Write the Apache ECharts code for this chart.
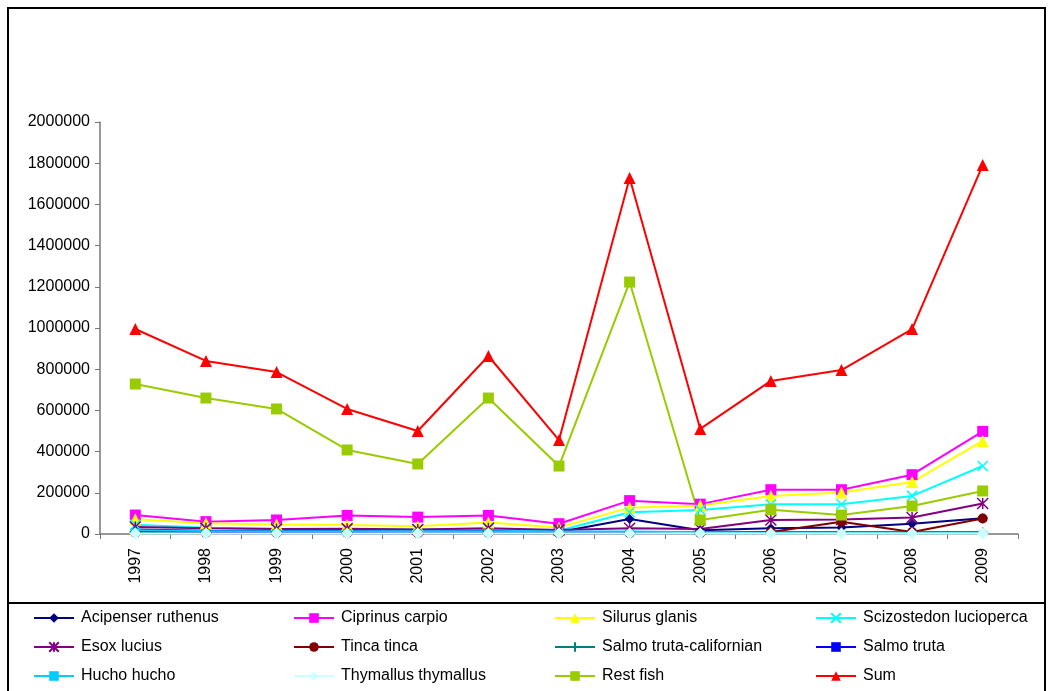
<!DOCTYPE html>
<html>
<head>
<meta charset="utf-8">
<script src="https://cdn.jsdelivr.net/npm/echarts@6/dist/echarts.min.js"></script>
<style>
  html, body { margin: 0; padding: 0; background: #fff; }
  #chart { width: 1048px; height: 691px; }
</style>
</head>
<body>
<div id="chart"></div>
<script>
// Fish catch by species, 1997-2009
const years = ['1997', '1998', '1999', '2000', '2001', '2002', '2003', '2004', '2005', '2006', '2007', '2008', '2009'];

const acipenser   = [22000, 16000, 14000, 14000, 12000, 14000, 10000, 73000, 18000, 28000, 31000, 50000, 76000];
const ciprinus    = [92000, 60000, 68000, 90000, 82000, 90000, 50000, 162000, 145000, 215000, 215000, 288000, 498000];
const silurus     = [72000, 52000, 46000, 44000, 38000, 56000, 32000, 128000, 138000, 185000, 202000, 252000, 452000];
const scizostedon = [45000, 30000, 26000, 24000, 22000, 26000, 16000, 106000, 117000, 144000, 144000, 185000, 330000];
const esox        = [34000, 28000, 24000, 26000, 22000, 28000, 20000, 28000, 24000, 68000, 70000, 80000, 148000];
const tinca       = [6000, 5000, 5000, 5000, 4000, 5000, 4000, 4000, 4000, 10000, 60000, 10000, 75000];
const salmoCal    = [8000, 6000, 6000, 6000, 5000, 6000, 5000, 5000, 5000, 5000, 5000, 5000, 5000];
const salmo       = [14000, 11000, 10000, 10000, 9000, 10000, 9000, 10000, 9000, 8000, 8000, 8000, 8000];
const hucho       = [18000, 14000, 13000, 13000, 12000, 13000, 12000, 12000, 8000, 6000, 6000, 6000, 6000];
const thymallus   = [2000, 2000, 2000, 2000, 2000, 2000, 2000, 2000, 2000, 2000, 2000, 2000, 2000];
const restFish    = [728000, 660000, 607000, 408000, 340000, 660000, 330000, 1223000, 68000, 118000, 92000, 136000, 209000];
const sumAll      = [995000, 840000, 786000, 607000, 500000, 864000, 456000, 1728000, 510000, 743000, 796000, 995000, 1791000];

const yTicks = { min: 0, max: 2000000, interval: 200000 };

// marker shapes
const CROSS = 'path://M0,0L10,10M10,0L0,10';
const STAR = 'path://M0,0L10,10M10,0L0,10M5,0L5,10';
const PLUS = 'path://M5,0L5,10M0,5L10,5';

const FONT = '"Liberation Sans", Arial, sans-serif';

function line(name, data, color, symbol, size, stroked) {
  return {
    name: name,
    type: 'line',
    data: data,
    symbol: symbol,
    symbolSize: size,
    showSymbol: true,
    lineStyle: { color: color, width: 2 },
    itemStyle: stroked
      ? { color: color, borderColor: color, borderWidth: 1.5 }
      : { color: color, borderWidth: 0 },
    emphasis: { disabled: true },
    animation: false
  };
}

const series = [
  line('Acipenser ruthenus', acipenser, '#000080', 'diamond', 10),
  line('Ciprinus carpio', ciprinus, '#FF00FF', 'rect', 11),
  line('Silurus glanis', silurus, '#FFFF00', 'triangle', 12),
  line('Scizostedon lucioperca', scizostedon, '#00FFFF', CROSS, 10, true),
  line('Esox lucius', esox, '#800080', STAR, 11, true),
  line('Tinca tinca', tinca, '#800000', 'circle', 10),
  line('Salmo truta-californian', salmoCal, '#008080', PLUS, 11, true),
  line('Salmo truta', salmo, '#0000FF', 'rect', [7, 3]),
  line('Hucho hucho', hucho, '#00CCFF', 'rect', [9, 4]),
  line('Thymallus thymallus', thymallus, '#CCFFFF', 'diamond', 12),
  line('Rest fish', restFish, '#99CC00', 'rect', 11),
  line('Sum', sumAll, '#FF0000', 'triangle', 12)
];

const legendColumns = [
  ['Acipenser ruthenus', 'Esox lucius', 'Hucho hucho'],
  ['Ciprinus carpio', 'Tinca tinca', 'Thymallus thymallus'],
  ['Silurus glanis', 'Salmo truta-californian', 'Rest fish'],
  ['Scizostedon lucioperca', 'Salmo truta', 'Sum']
];
const legendLeft = [33, 293, 554, 815];

const legends = legendColumns.map((names, i) => ({
  data: names,
  orient: 'vertical',
  left: legendLeft[i],
  top: 610,
  itemWidth: 40,
  itemHeight: 12,
  itemGap: 13,
  padding: 0,
  selectedMode: false,
  textStyle: { fontFamily: FONT, fontSize: 16, color: '#000', lineHeight: 16, padding: [0, 0, 0, 2] }
}));

const chart = echarts.init(document.getElementById('chart'), null, { renderer: 'canvas' });
chart.setOption({
  backgroundColor: '#fff',
  animation: false,
  grid: { left: 100, right: 30, top: 122, bottom: 157, containLabel: false },
  legend: legends,
  xAxis: {
    type: 'category',
    data: years,
    boundaryGap: true,
    axisLine: { lineStyle: { color: '#777', width: 1.5 } },
    axisTick: { show: true, length: 5, lineStyle: { color: '#777' } },
    axisLabel: { interval: 0, rotate: 90, margin: 14, fontFamily: FONT, fontSize: 16, color: '#000' },
    splitLine: { show: false }
  },
  yAxis: {
    type: 'value',
    min: yTicks.min,
    max: yTicks.max,
    interval: yTicks.interval,
    axisLine: { show: true, lineStyle: { color: '#777', width: 1.5 } },
    axisTick: { show: true, length: 5, lineStyle: { color: '#777' } },
    axisLabel: {
      margin: 10, fontFamily: FONT, fontSize: 16, color: '#000',
      formatter: (v) => String(v)
    },
    splitLine: { show: false }
  },
  series: series,
  graphic: [
    {
      type: 'rect',
      shape: { x: 8, y: 8, width: 1037, height: 700 },
      style: { fill: 'none', stroke: '#000', lineWidth: 2 },
      silent: true
    },
    {
      type: 'line',
      shape: { x1: 8, y1: 603, x2: 1045, y2: 603 },
      style: { stroke: '#000', lineWidth: 2 },
      silent: true
    }
  ]
});
</script>
</body>
</html>
